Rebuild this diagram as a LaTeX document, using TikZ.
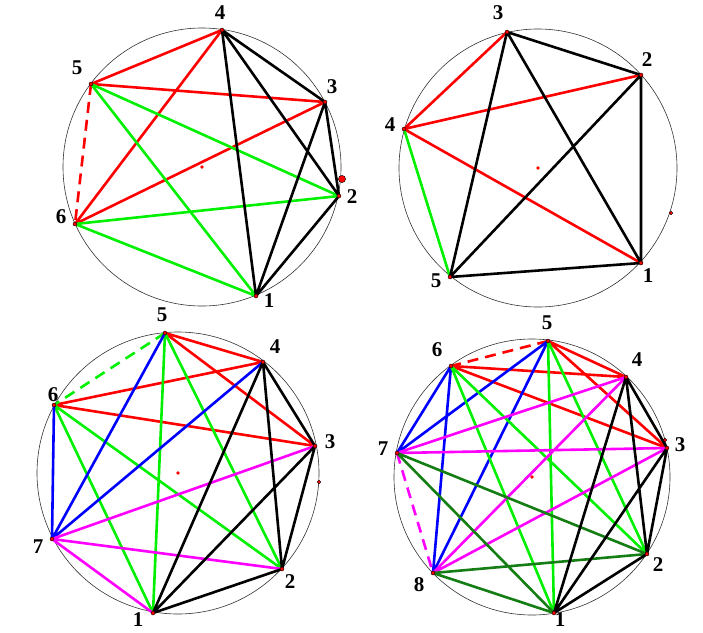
\documentclass[tikz,border=0pt]{standalone}
\usepackage{fontspec}
\setmainfont{Liberation Serif}
\usetikzlibrary{calc}
\definecolor{mag}{RGB}{255,0,255}
\definecolor{lgreen}{RGB}{0,240,0}
\definecolor{dgreen}{RGB}{20,125,20}

\begin{document}
\begin{tikzpicture}[x=1pt,y=-1pt,
    ln/.style={line width=2.6pt},
    dsh/.style={line width=2.6pt,dash pattern=on 11pt off 7pt},
    rim/.style={line width=0.6pt,black!80},
    vdot/.style={fill=red,draw=black,line width=0.4pt},
    lbl/.style={font=\fontsize{21}{24}\selectfont\bfseries,inner sep=0pt}]
  \useasboundingbox (0,0) rectangle (703,632);

  % top left
  \coordinate (oa) at (202,167);
  \coordinate (a1) at (256,296);
  \coordinate (a2) at (339,196);
  \coordinate (a3) at (325,102);
  \coordinate (a4) at (222,30);
  \coordinate (a5) at (91,84);
  \coordinate (a6) at (75,224);
  \coordinate (ax) at (342,179);
  \draw[rim] (oa) circle (139);
  \draw[red,ln] (a4) -- (a5) (a4) -- (a6) (a5) -- (a3) (a6) -- (a3);
  \draw[red,dsh] (a5) -- (a6);
  \draw[lgreen,ln] (a5) -- (a2) (a5) -- (a1) (a6) -- (a2) (a6) -- (a1);
  \draw[black,ln] (a4) -- (a1) (a4) -- (a2) (a4) -- (a3) (a3) -- (a2) (a3) -- (a1) (a2) -- (a1);
  \foreach \i in {1,...,6} \fill[vdot] (a\i) circle (2);
  \fill[red] (oa) circle (1.8);
  \fill[vdot] (ax) circle (3.6);
  \node[lbl] (la1) at (269,301) {1};
  \node[lbl] (la2) at (352,197) {2};
  \node[lbl] (la3) at (332,87) {3};
  \node[lbl] (la4) at (220,13) {4};
  \node[lbl] (la5) at (77,68) {5};
  \node[lbl] (la6) at (61,217) {6};

  % top right
  \coordinate (ob) at (538,168);
  \coordinate (b1) at (641,263);
  \coordinate (b2) at (641,75);
  \coordinate (b3) at (507,32);
  \coordinate (b4) at (404,129);
  \coordinate (b5) at (450,277);
  \coordinate (bx) at (671,213);
  \draw[rim] (ob) circle (139);
  \draw[red,ln] (b3) -- (b4) (b4) -- (b2) (b4) -- (b1);
  \draw[lgreen,ln] (b4) -- (b5);
  \draw[black,ln] (b3) -- (b2) (b3) -- (b5) (b3) -- (b1) (b2) -- (b1) (b2) -- (b5) (b5) -- (b1);
  \foreach \i in {1,...,5} \fill[vdot] (b\i) circle (2);
  \fill[red] (ob) circle (1.8);
  \fill[vdot] (bx) circle (1.8);
  \node[lbl] (lb1) at (648,276) {1};
  \node[lbl] (lb2) at (647,60) {2};
  \node[lbl] (lb3) at (498,13) {3};
  \node[lbl] (lb4) at (390,125) {4};
  \node[lbl] (lb5) at (436,281) {5};

  % bottom left
  \coordinate (oc) at (178,473);
  \coordinate (c1) at (153,613);
  \coordinate (c2) at (282,569);
  \coordinate (c3) at (315,446);
  \coordinate (c4) at (263,362);
  \coordinate (c5) at (165,333);
  \coordinate (c6) at (54,405);
  \coordinate (c7) at (52,539);
  \coordinate (cx) at (319,482);
  \draw[rim] (oc) circle (141);
  \draw[red,ln] (c5) -- (c4) (c5) -- (c3) (c6) -- (c4) (c6) -- (c3);
  \draw[lgreen,dsh] (c5) -- (c6);
  \draw[lgreen,ln] (c5) -- (c1) (c5) -- (c2) (c6) -- (c1) (c6) -- (c2);
  \draw[blue,ln] (c5) -- (c7) (c4) -- (c7) (c6) -- (c7);
  \draw[mag,ln] (c7) -- (c3) (c7) -- (c2) (c7) -- (c1);
  \draw[black,ln] (c4) -- (c3) (c4) -- (c2) (c4) -- (c1) (c3) -- (c2) (c3) -- (c1) (c2) -- (c1);
  \foreach \i in {1,...,7} \fill[vdot] (c\i) circle (2);
  \fill[red] (oc) circle (1.8);
  \fill[vdot] (cx) circle (1.8);
  \node[lbl] (lc1) at (138,620) {1};
  \node[lbl] (lc2) at (290,582) {2};
  \node[lbl] (lc3) at (330,442) {3};
  \node[lbl] (lc4) at (275,347) {4};
  \node[lbl] (lc5) at (162,315) {5};
  \node[lbl] (lc6) at (53,395) {6};
  \node[lbl] (lc7) at (38,547) {7};

  % bottom right
  \coordinate (od) at (532,477);
  \coordinate (d1) at (554,613);
  \coordinate (d2) at (647,554);
  \coordinate (d3) at (667,448);
  \coordinate (d4) at (626,377);
  \coordinate (d5) at (548,341);
  \coordinate (d6) at (451,366);
  \coordinate (d7) at (397,453);
  \coordinate (d8) at (433,573);
  \coordinate (dx) at (665,440);
  \draw[rim] (od) circle (138);
  \draw[red,dsh] (d5) -- (d6);
  \draw[red,ln] (d5) -- (d4) (d5) -- (d3) (d6) -- (d4) (d6) -- (d3);
  \draw[blue,ln] (d6) -- (d7) (d6) -- (d8) (d5) -- (d7) (d5) -- (d8);
  \draw[lgreen,ln] (d6) -- (d1) (d6) -- (d2) (d5) -- (d1) (d5) -- (d2);
  \draw[mag,ln] (d7) -- (d4) (d7) -- (d3) (d8) -- (d4) (d8) -- (d3);
  \draw[mag,dsh] (d7) -- (d8);
  \draw[dgreen,ln] (d7) -- (d2) (d7) -- (d1) (d8) -- (d2) (d8) -- (d1);
  \draw[black,ln] (d4) -- (d3) (d4) -- (d2) (d4) -- (d1) (d3) -- (d2) (d3) -- (d1) (d2) -- (d1);
  \foreach \i in {1,...,8} \fill[vdot] (d\i) circle (2);
  \fill[red] (od) circle (1.8);
  \fill[vdot] (dx) circle (1.8);
  \node[lbl] (ld1) at (560,620) {1};
  \node[lbl] (ld2) at (658,565) {2};
  \node[lbl] (ld3) at (680,445) {3};
  \node[lbl] (ld4) at (637,360) {4};
  \node[lbl] (ld5) at (547,323) {5};
  \node[lbl] (ld6) at (437,350) {6};
  \node[lbl] (ld7) at (383,449) {7};
  \node[lbl] (ld8) at (419,585) {8};
\end{tikzpicture}
\end{document}
